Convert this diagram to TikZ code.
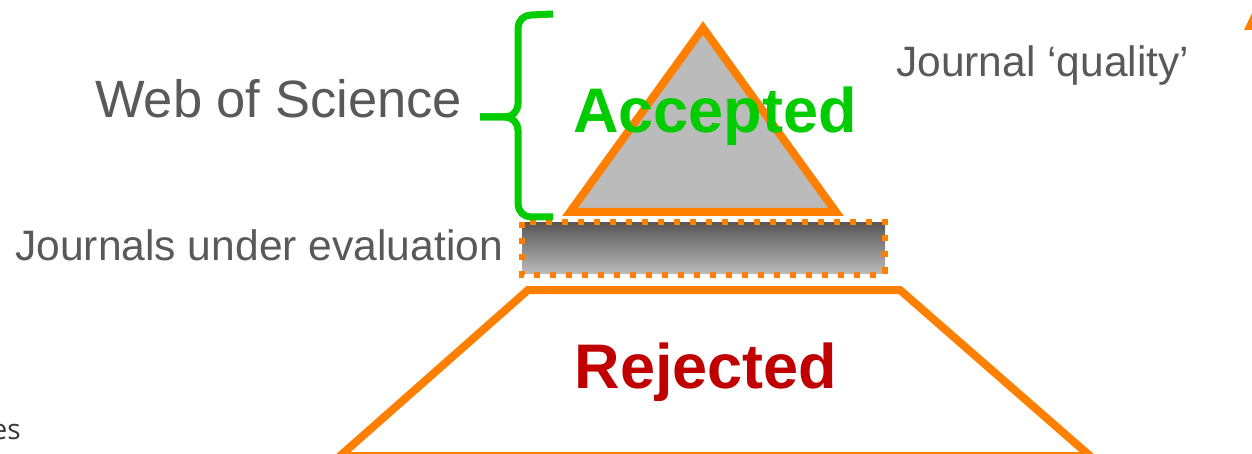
\documentclass[tikz,border=0pt]{standalone}
\usepackage{fontspec}
\setmainfont{Liberation Sans}
\newfontfamily\opensans{Open Sans}
\definecolor{orng}{HTML}{FF8000}
\definecolor{grn}{HTML}{00CC00}
\definecolor{rd}{HTML}{C00000}
\definecolor{txtgray}{HTML}{595959}
\definecolor{trifill}{HTML}{BBBBBB}
\begin{document}
\begin{tikzpicture}[x=1pt,y=-1pt,
  orangeline/.style={draw=orng,line width=8pt,line join=miter},
  graytext/.style={text=txtgray,inner sep=0pt,anchor=base west},
  bigbold/.style={font=\fontsize{63}{70}\selectfont\bfseries,inner sep=0pt,anchor=base}]
\useasboundingbox (0,0) rectangle (1252,454);
\clip (0,0) rectangle (1252,454);
% triangle
\draw[orangeline,fill=trifill] (703,28) -- (836,212) -- (570,212) -- cycle;
% rectangle with gradient
\shade[top color=black!66,bottom color=black!27] (522,223) rectangle (885,273);
\draw[draw=orng,line width=6pt,dash pattern=on 6pt off 10pt] (522,222.5) rectangle (885,274.5);
% trapezoid
\draw[orangeline,fill=white] (528,290) -- (900,290) -- (1090,456) -- (340,456) -- cycle;
% bracket
\draw[grn,line width=7pt,line cap=butt]
  (553,14) -- (531,15) to[out=180,in=90] (518,28) -- (518,104)
  to[out=-90,in=0] (505,117) -- (480,117);
\draw[grn,line width=7pt]
  (480,117) -- (505,117) to[out=0,in=90] (518,130) -- (518,204)
  to[out=-90,in=180] (531,217) -- (553,217);
% labels
\node[graytext,font=\fontsize{52.5}{60}\selectfont] (wos) at (95,118) {Web of Science};
\node[graytext,font=\fontsize{42.6}{50}\selectfont] (jue) at (15,261) {Journals under evaluation};
\node[graytext,font=\fontsize{42.5}{50}\selectfont] (jq) at (896,77) {Journal ‘quality’};
\node[bigbold,text=grn] (acc) at (715,133) {Accepted};
\node[bigbold,text=rd] (rej) at (706,388) {Rejected};
\node[inner sep=0pt,anchor=base east,text=black!78,font=\opensans\fontsize{28}{30}\selectfont] (es) at (21,439) {es};
% partial arrow tip
\fill[orng] (1244,30) -- (1252,13) -- (1253,30) -- cycle;
\end{tikzpicture}
\end{document}
